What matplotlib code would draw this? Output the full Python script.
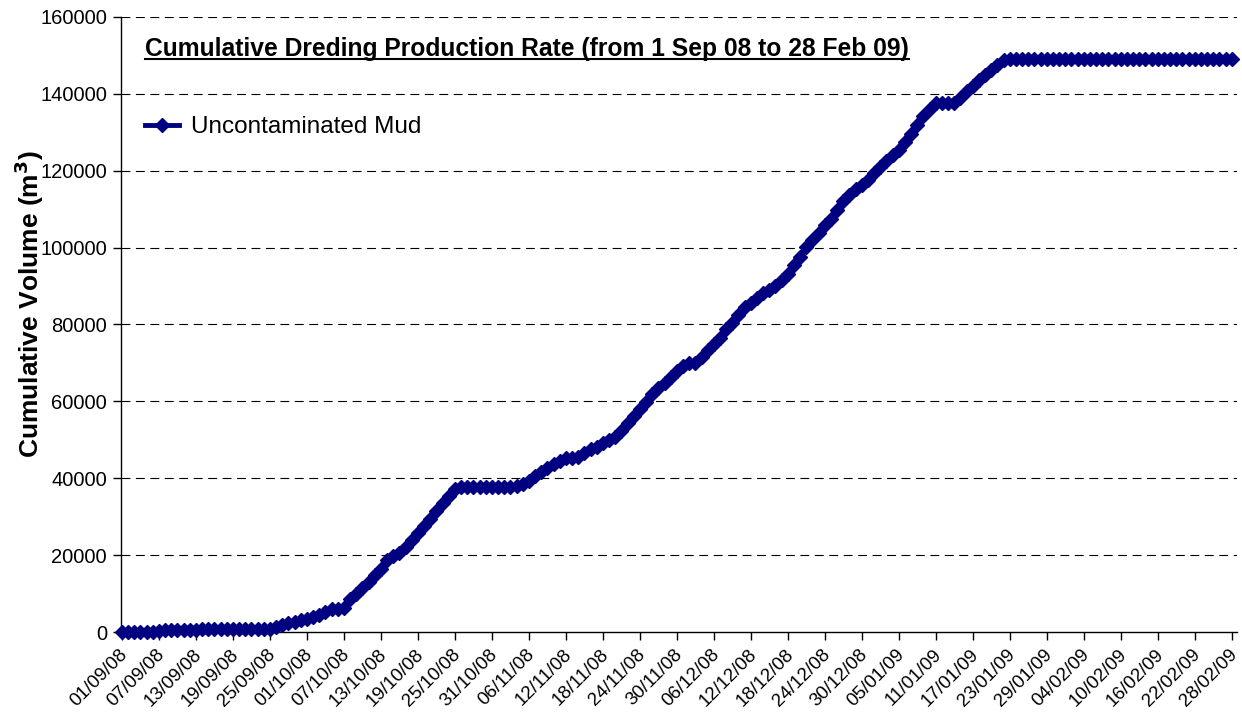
import matplotlib
matplotlib.use("Agg")
import matplotlib.pyplot as plt
import numpy as np
import datetime as dt
from matplotlib.lines import Line2D
from matplotlib.transforms import ScaledTranslation

plt.rcParams['font.family'] = ['Liberation Sans', 'DejaVu Sans']

start_date = dt.date(2008, 9, 1)
n_days = 181
dates = [start_date + dt.timedelta(days=i) for i in range(n_days)]

volume = [
    0, 0, 0, 0, 0, 0, 300, 400, 500, 500,
    600, 600, 650, 700, 700, 700, 700, 700, 700, 700,
    700, 750, 750, 750, 800, 1300, 1800, 2300, 2700, 3100,
    3500, 4000, 4400, 5200, 6000, 6100, 6300, 8500, 10000, 11500,
    13000, 14800, 16500, 18800, 19800, 20500, 22000, 24000, 25800, 27500,
    29500, 31500, 33500, 35500, 37300, 37800, 37800, 37800, 37800, 37800,
    37800, 37800, 37800, 37800, 37900, 38500, 39300, 40500, 41500, 42700,
    43600, 44600, 45200, 45300, 45400, 46500, 47500, 48200, 49200, 49900,
    50800, 52300, 54300, 56300, 58000, 59800, 61800, 63600, 64800, 66300,
    68000, 69200, 69900, 70000, 71500, 73300, 75000, 76600, 78800, 80300,
    82400, 84500, 85600, 86900, 88100, 89000, 90000, 91500, 93200, 95500,
    97600, 100200, 102000, 103700, 105800, 107500, 109700, 112000, 113800, 115200,
    116400, 117700, 119300, 121000, 122500, 124000, 125500, 127500, 129500, 131800,
    134200, 136000, 137500, 137500, 137500, 137600, 139000, 140800, 142000, 143600,
    144800, 146200, 147500, 148800, 149200, 149200, 149200, 149200, 149200, 149200,
    149200, 149200, 149200, 149200, 149200, 149200, 149200, 149200, 149200, 149200,
    149200, 149200, 149200, 149200, 149200, 149200, 149200, 149200, 149200, 149200,
    149200, 149200, 149200, 149200, 149200, 149200, 149200, 149200, 149200, 149200,
    149200,
]

series_name = "Uncontaminated Mud"
title_text = "Cumulative Dreding Production Rate (from 1 Sep 08 to 28 Feb 09)"
y_label = "Cumulative Volume (m$^\\mathbf{3}$)"
y_ticks = [0, 20000, 40000, 60000, 80000, 100000, 120000, 140000, 160000]
label_step = 6

W, H = 1242, 724
fig = plt.figure(figsize=(W / 100, H / 100), dpi=100)
ax = fig.add_axes([121 / W, 1 - 632 / H, (1237 - 121) / W, (632 - 17) / H])

x = np.arange(n_days)
navy = '#000080'
ax.plot(x, volume, color=navy, lw=3.5, marker='D', ms=7.5, mec=navy, mfc=navy,
        label=series_name, zorder=3, clip_on=False)

ax.set_xlim(-0.15, 180.85)
ax.set_ylim(0, 160000)
ax.set_yticks(y_ticks)
ax.set_yticklabels([str(v) for v in y_ticks], fontsize=14.5)
tick_pos = list(range(0, n_days, label_step))
ax.set_xticks(tick_pos)
ax.set_xticklabels([dates[i].strftime('%d/%m/%y') for i in tick_pos],
                   rotation=45, ha='right', va='top', rotation_mode='anchor',
                   fontsize=13.5)
ax.tick_params(axis='both', direction='out', length=6, width=1, color='black')
ax.tick_params(axis='x', pad=4)
ax.tick_params(axis='y', pad=4)
shift = ScaledTranslation(-3 / 100, 0, fig.dpi_scale_trans)
for lbl in ax.get_xticklabels():
    lbl.set_transform(lbl.get_transform() + shift)

for s in ['top', 'right']:
    ax.spines[s].set_visible(False)
for s in ['left', 'bottom']:
    ax.spines[s].set_color('black')
    ax.spines[s].set_linewidth(1)

for v in y_ticks[1:]:
    ax.axhline(v, color='black', lw=0.8, linestyle=(0, (8, 5)), zorder=1)

fig.text(29 / W, 1 - 304 / H, y_label, fontsize=19, fontweight='bold',
         rotation=90, ha='center', va='center')

t = ax.text(0.0215, 0.948, title_text, transform=ax.transAxes, fontsize=17.7,
            fontweight='bold', ha='left', va='center')

leg = ax.legend(loc='center left', bbox_to_anchor=(0.0215, 0.821), frameon=False,
                fontsize=17.5, handlelength=1.4, handletextpad=0.5, borderpad=0,
                borderaxespad=0)

fig.canvas.draw()
r = fig.canvas.get_renderer()
bb = t.get_window_extent(r)
inv = fig.transFigure.inverted()
(x0, y0) = inv.transform((bb.x0, bb.y0 + 2))
(x1, _) = inv.transform((bb.x1, bb.y0 + 2))
fig.add_artist(Line2D([x0, x1], [y0, y0], transform=fig.transFigure, color='black', lw=1.5))

fig.savefig("out.png", dpi=100, facecolor='white')
